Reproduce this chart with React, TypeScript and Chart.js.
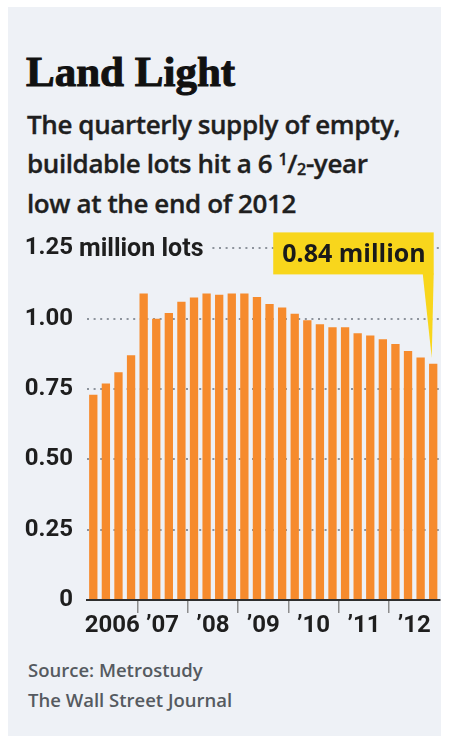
import React, { useEffect, useRef } from 'react';
import { Chart, registerables } from 'chart.js';

Chart.register(...registerables);

// ---- data ----
const quarters = [
  '2006 Q1', '2006 Q2', '2006 Q3', '2006 Q4',
  '2007 Q1', '2007 Q2', '2007 Q3', '2007 Q4',
  '2008 Q1', '2008 Q2', '2008 Q3', '2008 Q4',
  '2009 Q1', '2009 Q2', '2009 Q3', '2009 Q4',
  '2010 Q1', '2010 Q2', '2010 Q3', '2010 Q4',
  '2011 Q1', '2011 Q2', '2011 Q3', '2011 Q4',
  '2012 Q1', '2012 Q2', '2012 Q3', '2012 Q4',
];
const lotsMillions = [
  0.73, 0.77, 0.81, 0.87,
  1.09, 1.0, 1.02, 1.06,
  1.075, 1.09, 1.085, 1.09,
  1.09, 1.077, 1.052, 1.04,
  1.018, 0.995, 0.98, 0.97,
  0.97, 0.948, 0.94, 0.927,
  0.91, 0.885, 0.862, 0.84,
];
const yearLabels = ['2006', '\u201907', '\u201908', '\u201909', '\u201910', '\u201911', '\u201912'];
const yTickValues = [0, 0.25, 0.5, 0.75, 1.0, 1.25];
const yTickLabels = ['0', '0.25', '0.50', '0.75', '1.00', '1.25'];
const yUnitLabel = 'million lots';
const calloutLabel = '0.84 million';

const titleText = 'Land Light';
const sourceText = 'Source: Metrostudy';
const creditText = 'The Wall Street Journal';

// ---- styles ----
const PANEL = '#eef1f6';
const BAR = '#f68b2d';
const YELLOW = '#f8d61c';
const TEXT = '#1e1e1e';

const unitLabelPlugin = {
  id: 'unitLabel',
  afterDatasetsDraw(chart: any) {
    const ctx = chart.ctx;
    const y = chart.scales.y;
    const py = y.getPixelForValue(yTickValues[yTickValues.length - 1]);
    const x0 = chart.chartArea.left - 14 + 6;
    ctx.save();
    ctx.font = 'bold 25px Roboto';
    const w = ctx.measureText(yUnitLabel).width;
    ctx.fillStyle = PANEL;
    ctx.fillRect(chart.chartArea.left - 2, py - 5, x0 + w + 6 - (chart.chartArea.left - 2), 10);
    ctx.fillStyle = TEXT;
    ctx.textAlign = 'left';
    ctx.textBaseline = 'middle';
    ctx.fillText(yUnitLabel, x0, py + 1);
    ctx.restore();
  },
};

const calloutPlugin = {
  id: 'callout',
  afterDatasetsDraw(chart: any) {
    const ctx = chart.ctx;
    const meta = chart.getDatasetMeta(0);
    const last = meta.data[meta.data.length - 1];
    const py = chart.scales.y.getPixelForValue(yTickValues[yTickValues.length - 1]);
    ctx.save();
    ctx.font = 'bold 25px "Open Sans"';
    const tw = ctx.measureText(calloutLabel).width;
    const right = last.x + 0.5;
    const left = right - tw - 17;
    const top = py - 16;
    const bottom = py + 26;
    ctx.fillStyle = YELLOW;
    ctx.fillRect(left, top, right - left, bottom - top);
    ctx.beginPath();
    ctx.moveTo(right - 11, bottom - 1);
    ctx.lineTo(right, bottom - 1);
    ctx.lineTo(last.x - 1.5, last.y - 6);
    ctx.closePath();
    ctx.fill();
    ctx.fillStyle = '#1a1a1a';
    ctx.textAlign = 'left';
    ctx.textBaseline = 'middle';
    ctx.fillText(calloutLabel, left + 9, (top + bottom) / 2 + 1);
    ctx.restore();
  },
};

function BarChart() {
  const ref = useRef<HTMLCanvasElement | null>(null);
  useEffect(() => {
    if (!ref.current) return;
    const tickMark = (c: any) =>
      c.type === 'tick' && c.index > 0 && c.index % 4 === 0 ? '#8c8c8c' : 'rgba(0,0,0,0)';
    const chart = new Chart(ref.current, {
      type: 'bar',
      data: {
        labels: quarters,
        datasets: [
          {
            data: lotsMillions,
            backgroundColor: BAR,
            borderWidth: 0,
            barPercentage: 0.66,
            categoryPercentage: 1,
            xAxisID: 'x',
            yAxisID: 'y',
          },
        ],
      },
      options: {
        animation: false,
        responsive: true,
        maintainAspectRatio: false,
        layout: { padding: { top: 28, right: 1.5, bottom: 3, left: 0 } },
        plugins: {
          legend: { display: false },
          tooltip: { enabled: false },
          title: { display: false },
        },
        scales: {
          x: {
            type: 'category',
            position: 'bottom',
            weight: 0,
            offset: true,
            grid: {
              display: true,
              offset: true,
              drawOnChartArea: false,
              drawTicks: true,
              tickLength: 13,
              tickWidth: 1.5,
              lineWidth: 1.5,
              color: tickMark,
              tickColor: tickMark,
            },
            border: { display: true, color: '#2e2e2e', width: 2, z: 1 },
            ticks: { display: false },
            afterFit: (s: any) => {
              s.height = 13;
            },
          },
          xl: {
            type: 'category',
            labels: yearLabels,
            position: 'bottom',
            weight: 1,
            offset: true,
            display: true,
            grid: { display: false, drawTicks: false, drawOnChartArea: false },
            border: { display: false },
            ticks: {
              font: { family: 'Roboto', weight: 'bold', size: 24, lineHeight: 1 },
              color: TEXT,
              padding: 1,
              maxRotation: 0,
              autoSkip: false,
            },
            afterFit: (s: any) => {
              s.height = 34;
            },
          },
          y: {
            type: 'linear',
            position: 'left',
            min: 0,
            max: 1.25,
            afterBuildTicks: (s: any) => {
              s.ticks = yTickValues.map((v) => ({ value: v }));
            },
            ticks: {
              callback: (v: any) => yTickLabels[yTickValues.indexOf(Number(v))],
              font: { family: 'Roboto', weight: 'bold', size: 24 },
              color: TEXT,
              padding: 14,
            },
            grid: { color: '#8d939c', lineWidth: 2, drawTicks: false },
            border: { display: false, dash: [2, 4.6] },
            afterFit: (s: any) => {
              s.width = 79;
            },
          },
        },
      },
      plugins: [unitLabelPlugin, calloutPlugin],
    } as any);
    return () => chart.destroy();
  }, []);
  return <canvas ref={ref} />;
}

export default function App() {
  return (
    <div
      style={{
        position: 'absolute',
        left: 0,
        top: 0,
        width: 449,
        height: 742,
        background: '#ffffff',
        overflow: 'hidden',
      }}
    >
      <div
        style={{ position: 'absolute', left: 8, top: 7, width: 433, height: 729, background: PANEL }}
      />
      <div
        style={{
          position: 'absolute',
          left: 26,
          top: 50,
          fontFamily: '"Liberation Serif", serif',
          fontWeight: 700,
          fontSize: 43,
          lineHeight: '43px',
          color: '#111',
          whiteSpace: 'nowrap',
          WebkitTextStroke: '1px #111',
        }}
      >
        {titleText}
      </div>
      <div
        style={{
          position: 'absolute',
          left: 27,
          top: 107,
          width: 410,
          fontFamily: '"Open Sans", sans-serif',
          fontWeight: 600,
          fontSize: 26,
          lineHeight: '34.5px',
          color: '#1f1f1f',
          letterSpacing: '-0.4px',
          WebkitTextStroke: '0.35px #1f1f1f',
        }}
      >
        <div style={{ whiteSpace: 'nowrap' }}>The quarterly supply of empty,</div>
        <div style={{ whiteSpace: 'nowrap' }}>
          buildable lots hit a 6{' '}
          <span style={{ fontSize: '0.62em', verticalAlign: '0.5em' }}>1</span>
          <span>/</span>
          <span style={{ fontSize: '0.62em', verticalAlign: '-0.15em' }}>2</span>-year
        </div>
        <div style={{ whiteSpace: 'nowrap' }}>low at the end of 2012</div>
      </div>
      <div style={{ position: 'absolute', left: 8, top: 220, width: 433, height: 430 }}>
        <BarChart />
      </div>
      <div
        style={{
          position: 'absolute',
          left: 28,
          top: 655,
          fontFamily: '"Open Sans", sans-serif',
          fontWeight: 600,
          fontSize: 18.5,
          lineHeight: '30px',
          color: '#555a60',
          whiteSpace: 'nowrap',
        }}
      >
        <div>{sourceText}</div>
        <div>{creditText}</div>
      </div>
    </div>
  );
}
